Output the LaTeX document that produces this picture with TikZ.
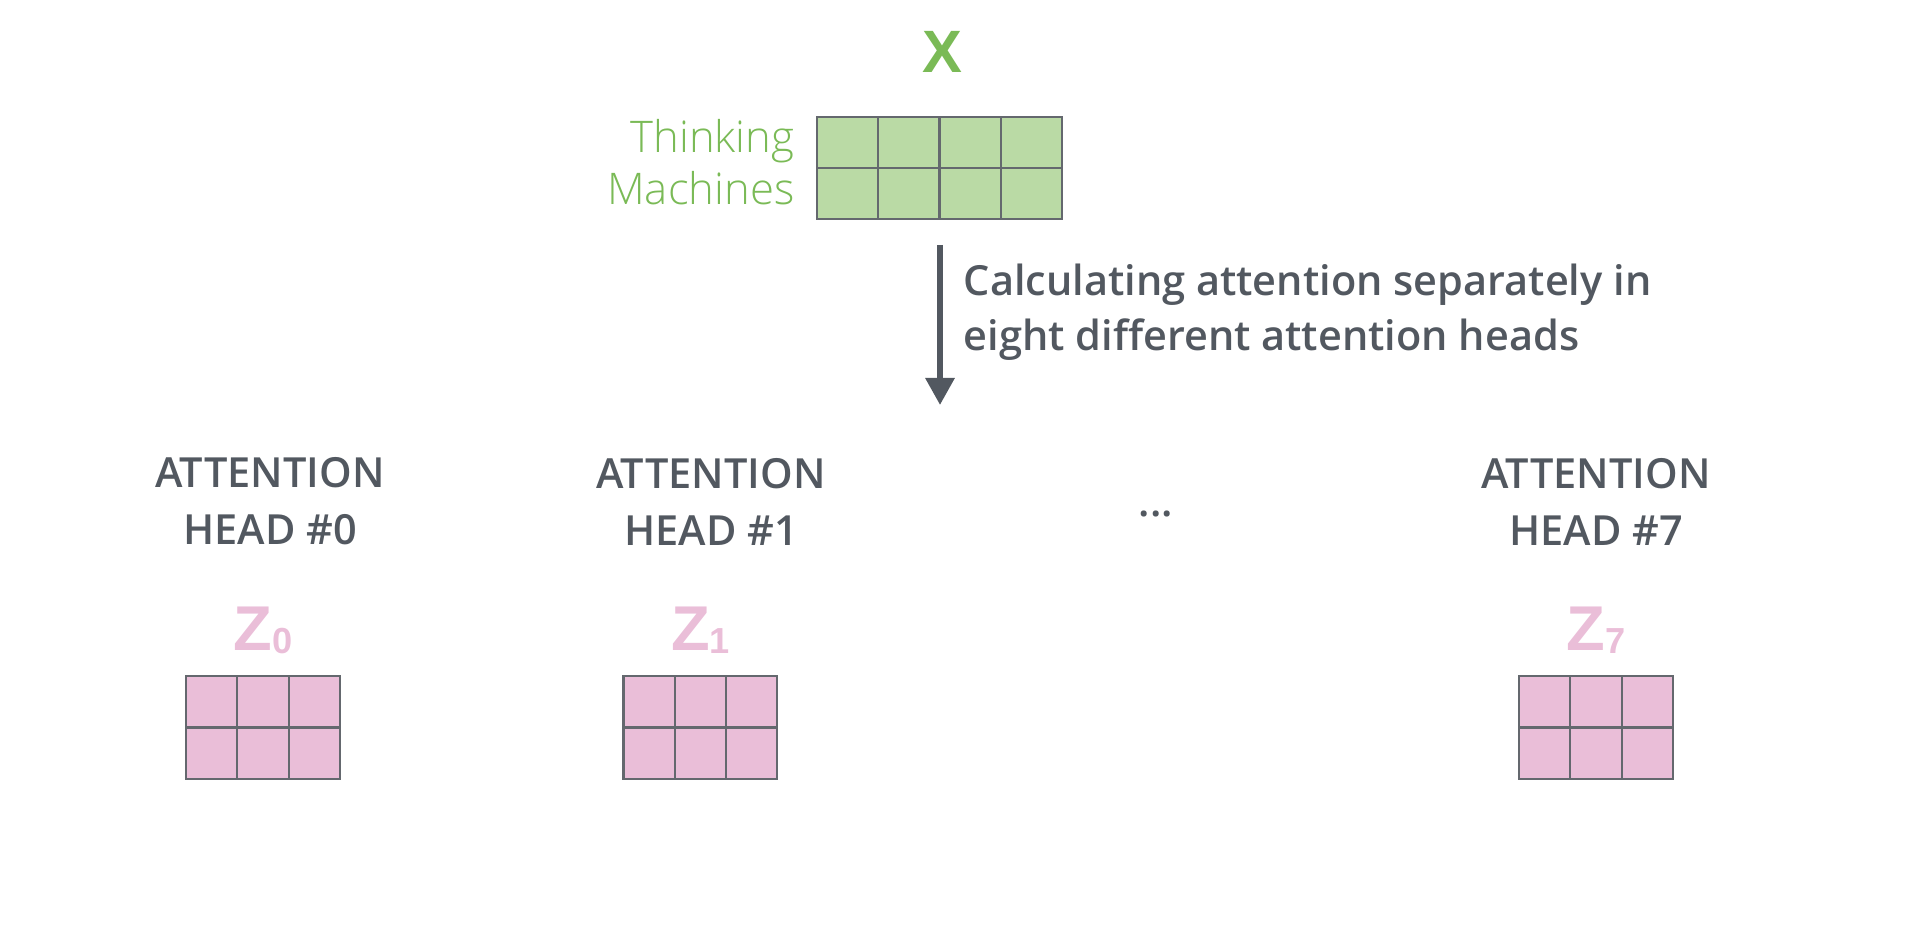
\documentclass[tikz,border=0pt]{standalone}
\usepackage{fontspec}
\usepackage{xcolor}
\usepackage{tikz}
\usetikzlibrary{arrows.meta}

\setmainfont{Open Sans}
\IfFontExistsTF{Open Sans Semibold}
  {\newfontfamily\headfont{Open Sans Semibold}}
  {\IfFontExistsTF{Open Sans SemiBold}
    {\newfontfamily\headfont{Open Sans SemiBold}}
    {\newfontfamily\headfont{Open Sans}[FakeBold=1.2]}}
\IfFontExistsTF{Open Sans Light}
  {\newfontfamily\thinfont{Open Sans Light}}
  {\newfontfamily\thinfont{Open Sans}}
\newfontfamily\matfont{Liberation Sans}

\definecolor{inkgrey}{RGB}{82,88,96}
\definecolor{cellline}{RGB}{100,104,110}
\definecolor{xgreen}{RGB}{122,186,86}
\definecolor{xfill}{RGB}{186,218,165}
\definecolor{zpink}{RGB}{234,190,216}

\begin{document}
\begin{tikzpicture}[x=0.01cm, y=-0.01cm, every node/.style={inner sep=0pt},
    xcell/.style={draw=cellline, fill=xfill, line width=0.6pt},
    zcell/.style={draw=cellline, fill=zpink, line width=0.6pt},
    matname/.style={anchor=base, font=\matfont\bfseries\fontsize{17}{17}\selectfont},
    wordlabel/.style={align=right, text=xgreen, font=\thinfont\fontsize{12.4}{14.8}\selectfont},
    note/.style={align=left, text=inkgrey, font=\headfont\fontsize{11.8}{15.6}\selectfont},
    headlabel/.style={align=center, text=inkgrey, font=\headfont\fontsize{11.8}{16.2}\selectfont},
    flow/.style={draw=inkgrey, line width=1.7pt, -{Triangle[width=8pt, length=7.7pt]}}]
  \useasboundingbox (0,0) rectangle (1930,940);

  % input X
  \node[matname, text=xgreen] (x) at (942,73) {X};
  \foreach \c in {0,...,3}
    \foreach \r in {0,1}
      \draw[xcell] ({817+61.25*\c},{117+51*\r}) rectangle ++(61.25,51);
  \node[wordlabel, anchor=east] (words) at (795,162.5) {Thinking\\Machines};

  % split into heads
  \coordinate (from) at (940,245);
  \coordinate (to) at (940,405);
  \draw[flow] (from) -- (to);
  \node[note, anchor=west] (split) at (963,312) {Calculating attention separately in\\eight different attention heads};

  % heads
  \node[headlabel] (head0) at (270,501.5) {ATTENTION\\HEAD \#0};
  \node[headlabel] (head1) at (711,501.5) {ATTENTION\\HEAD \#1};
  \node[headlabel] (dots) at (1156,514) {...};
  \node[headlabel] (head7) at (1596,501.5) {ATTENTION\\HEAD \#7};

  % outputs Z
  \foreach \cx/\k in {263/0, 700.5/1, 1596/7} {
    \node[matname, text=zpink] (z\k) at (\cx,650)
      {\fontsize{18}{18}\selectfont Z\fontsize{10.3}{10}\selectfont\raisebox{-0.9pt}{\k}};
    \foreach \c in {0,1,2}
      \foreach \r in {0,1}
        \draw[zcell] ({\cx-77+51.3*\c},{676+51.5*\r}) rectangle ++(51.3,51.5);
  }
\end{tikzpicture}
\end{document}
